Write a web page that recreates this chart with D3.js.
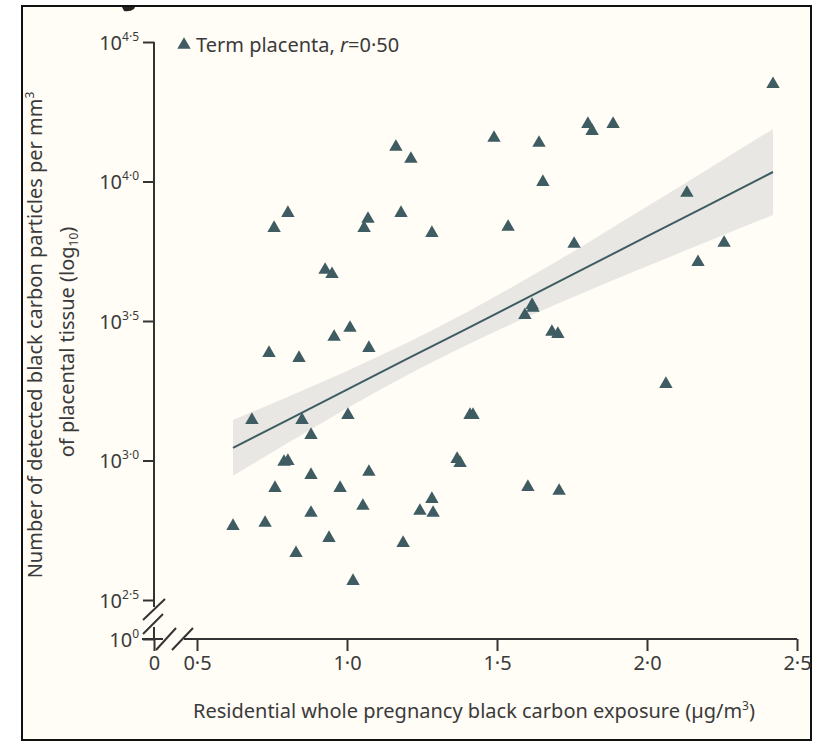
<!DOCTYPE html>
<html>
<head>
<meta charset="utf-8">
<script src="https://cdn.jsdelivr.net/npm/d3@7"></script>
<style>
  html, body { margin: 0; padding: 0; background: #fff; }
  svg { display: block; }
  text { font-family: "Noto Sans", "DejaVu Sans", sans-serif; fill: #3a3a3a; }
</style>
</head>
<body>
<div id="chart"></div>
<script>
//exposure (ug/m3) per placenta
const exposure = [
  0.62, 0.683, 0.727, 0.74, 0.757, 0.76, 0.79, 0.803, 0.803, 0.83,
  0.84, 0.85, 0.88, 0.88, 0.88, 0.927, 0.95, 0.94, 0.957, 0.977,
  1.003, 1.01, 1.02, 1.057, 1.053, 1.07, 1.073, 1.073, 1.187, 1.163,
  1.18, 1.213, 1.243, 1.283, 1.283, 1.287, 1.367, 1.377, 1.41, 1.42,
  1.49, 1.537, 1.593, 1.617, 1.62, 1.603, 1.683, 1.703, 1.707, 1.64,
  1.653, 1.757, 1.803, 1.817, 1.887, 2.063, 2.133, 2.17, 2.257, 2.42
];
//log10 of black carbon particles per mm3
const particlesLog = [
  2.765, 3.145, 2.776, 3.385, 3.833, 2.901, 2.995, 2.998, 3.887, 2.668,
  3.367, 3.145, 3.091, 2.812, 2.948, 3.683, 3.668, 2.722, 3.443, 2.901,
  3.163, 3.475, 2.568, 3.833, 2.837, 3.866, 3.403, 2.959, 2.704, 4.124,
  3.887, 4.081, 2.819, 3.815, 2.862, 2.812, 3.005, 2.991, 3.163, 3.163,
  4.156, 3.837, 3.521, 3.557, 3.547, 2.905, 3.461, 3.453, 2.891, 4.138,
  3.998, 3.776, 4.206, 4.181, 4.206, 3.274, 3.959, 3.711, 3.78, 4.349
];

//regression line and confidence band
const bandX = [0.62, 0.8, 1.0, 1.2, 1.4, 1.6, 1.8, 2.0, 2.2, 2.42];
const bandFit = [3.045, 3.144, 3.254, 3.364, 3.473, 3.583, 3.693, 3.803, 3.913, 4.034];
const bandLow = [2.945, 3.061, 3.187, 3.306, 3.414, 3.514, 3.607, 3.696, 3.784, 3.880];
const bandHigh = [3.145, 3.227, 3.321, 3.422, 3.532, 3.652, 3.779, 3.910, 4.042, 4.188];

//ticks
const xTicks = [0, 0.5, 1.0, 1.5, 2.0, 2.5];
const xTickLabels = ["0", "0·5", "1·0", "1·5", "2·0", "2·5"];
const yTicks = [0, 2.5, 3.0, 3.5, 4.0, 4.5];
const yTickExp = ["0", "2·5", "3·0", "3·5", "4·0", "4·5"];

const W = 825, H = 746;
const markColor = "#3e5c62";
const axisColor = "#333";
const fontSize = 20;

const svg = d3.select("#chart").append("svg")
  .attr("width", W).attr("height", H);

//panel frame
svg.append("rect")
  .attr("x", 22).attr("y", 6).attr("width", 789).attr("height", 734)
  .attr("fill", "#fffdf6").attr("stroke", "#111").attr("stroke-width", 2);

//bottom of the cropped panel letter peeking under the frame
svg.append("path")
  .attr("d", "M122,7 L135,7 L134,9 Q130,12 124,11 Z")
  .attr("fill", "#222");

//broken scales: 0 sits just before the break
const x = d3.scaleLinear().domain([0, 0.5, 2.5]).range([154, 197, 797]);
const y = d3.scaleLinear().domain([0, 2.5, 4.5]).range([639, 600, 42]);

//confidence band
const area = d3.area()
  .x((d, i) => x(bandX[i]))
  .y0((d, i) => y(bandLow[i]))
  .y1((d, i) => y(bandHigh[i]))
  .curve(d3.curveMonotoneX);
svg.append("path")
  .datum(bandX)
  .attr("d", area)
  .attr("fill", "#e8e7e3");

//regression line
const line = d3.line()
  .x((d, i) => x(bandX[i]))
  .y((d, i) => y(bandFit[i]));
svg.append("path")
  .datum(bandX)
  .attr("d", line)
  .attr("fill", "none")
  .attr("stroke", markColor)
  .attr("stroke-width", 2);

//points
const tri = d3.symbol().type(d3.symbolTriangle).size(78);
svg.append("g")
  .selectAll("path")
  .data(exposure)
  .join("path")
  .attr("transform", (d, i) => `translate(${x(d)},${y(particlesLog[i])})`)
  .attr("d", tri)
  .attr("fill", markColor);

//axes
const xAxis = d3.axisBottom(x).tickValues(xTicks).tickSize(12).tickFormat((d, i) => xTickLabels[i]);
const gx = svg.append("g").attr("transform", `translate(0,${y(0)})`).call(xAxis);
gx.select(".domain").remove();
gx.selectAll(".tick line").attr("stroke", axisColor).attr("stroke-width", 2);
gx.selectAll(".tick text")
  .attr("font-size", fontSize).attr("y", 17)
  .style("font-family", "'Noto Sans', sans-serif").style("fill", "#3a3a3a");

const yAxis = d3.axisLeft(y).tickValues(yTicks).tickSize(11).tickFormat("");
const gy = svg.append("g").attr("transform", `translate(${x(0)},0)`).call(yAxis);
gy.select(".domain").remove();
gy.selectAll(".tick line").attr("stroke", axisColor).attr("stroke-width", 2);
gy.selectAll(".tick text").each(function (d) {
  const t = d3.select(this)
    .attr("x", -15).attr("dy", null).attr("y", 7)
    .attr("text-anchor", "end")
    .style("font-family", "'Noto Sans', sans-serif").style("fill", "#3a3a3a")
    .attr("font-size", fontSize);
  t.append("tspan").text("10");
  t.append("tspan").attr("dy", -9).attr("font-size", 12).text(yTickExp[yTicks.indexOf(d)]);
});

//axis lines with breaks
const axisLines = [
  [[x(0), y(4.5)], [x(0), 607]],
  [[x(0), 627], [x(0), y(0)]],
  [[142, y(0)], [163, y(0)]],
  [[184, y(0)], [x(2.5), y(0)]]
];
//break slashes
const slashes = [
  [[143, 620], [165, 599]],
  [[143, 634], [163, 614]],
  [[156, 650], [176, 628]],
  [[172, 650], [193, 628]]
];
svg.append("g")
  .selectAll("path")
  .data(axisLines.concat(slashes))
  .join("path")
  .attr("d", d => d3.line()(d))
  .attr("stroke", axisColor)
  .attr("stroke-width", 2)
  .attr("fill", "none");

//axis titles
svg.append("text")
  .attr("x", 474).attr("y", 718)
  .attr("text-anchor", "middle")
  .attr("font-size", fontSize)
  .html("Residential whole pregnancy black carbon exposure (µg/m<tspan dy='-8' font-size='12'>3</tspan><tspan dy='8'>)</tspan>");

svg.append("text")
  .attr("transform", "translate(42,335) rotate(-90)")
  .attr("text-anchor", "middle")
  .attr("font-size", fontSize)
  .html("Number of detected black carbon particles per mm<tspan dy='-8' font-size='12'>3</tspan>");

svg.append("text")
  .attr("transform", "translate(74,342) rotate(-90)")
  .attr("text-anchor", "middle")
  .attr("font-size", fontSize)
  .html("of placental tissue (log<tspan dy='4' font-size='12'>10</tspan><tspan dy='-4'>)</tspan>");

//legend
svg.append("path")
  .attr("transform", "translate(184,45)")
  .attr("d", tri)
  .attr("fill", markColor);
svg.append("text")
  .attr("x", 196).attr("y", 52)
  .attr("font-size", fontSize)
  .html("Term placenta, <tspan font-style='italic'>r</tspan>=0·50");
</script>
</body>
</html>
